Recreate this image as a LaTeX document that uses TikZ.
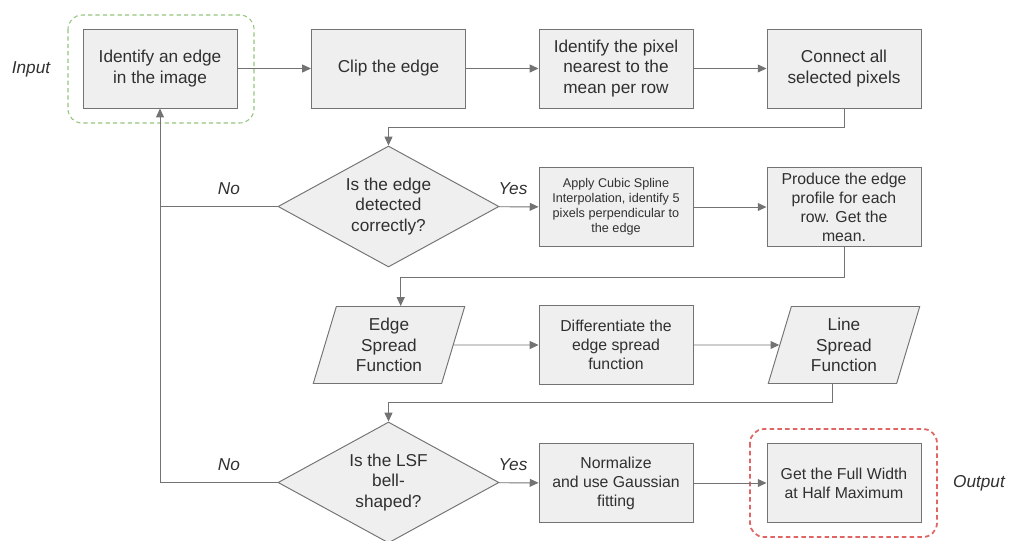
\documentclass[tikz,border=0pt]{standalone}
\usepackage{fontspec}
\setmainfont{Liberation Sans}
\usetikzlibrary{arrows.meta,shapes.geometric}
\definecolor{fcfill}{RGB}{239,239,239}
\definecolor{fcline}{RGB}{115,115,115}
\definecolor{fctext}{RGB}{48,48,48}
\definecolor{fcgreen}{RGB}{147,196,125}
\definecolor{fcred}{RGB}{224,102,102}

\begin{document}
\begin{tikzpicture}[x=0.02cm,y=-0.02cm,text=fctext,
    bigfont/.style={font=\fontsize{9.8}{11.6}\selectfont},
    midfont/.style={font=\fontsize{9}{10.8}\selectfont},
    procbox/.style={draw=fcline,fill=fcfill,line width=0.55pt,minimum width=3.08cm,
      minimum height=1.58cm,align=center,inner sep=2pt},
    iobox/.style={trapezium,trapezium left angle=75,trapezium right angle=105,
      trapezium stretches=true,draw=fcline,fill=fcfill,line width=0.55pt,
      minimum width=3.04cm,minimum height=1.54cm,align=center,inner sep=1pt,bigfont},
    decbox/.style={diamond,aspect=1.83,draw=fcline,fill=fcfill,line width=0.55pt,
      minimum width=4.42cm,minimum height=2.42cm,align=center,inner sep=0pt,bigfont},
    link/.style={draw=fcline,line width=0.55pt},
    flow/.style={link,-{Triangle[length=5pt,width=4.5pt]}},
    lbl/.style={font=\fontsize{9.8}{11.6}\selectfont\itshape}]
  \useasboundingbox (0,0) rectangle (1009,541);
  \draw[fcgreen,line width=0.6pt,dash pattern=on 2.4pt off 1.8pt,rounded corners=8pt]
    (68,15) rectangle (254,123);
  \draw[fcred,line width=1pt,dash pattern=on 2.6pt off 1.8pt,rounded corners=8pt]
    (750,429) rectangle (937,537);
  \node[procbox,bigfont] (ident) at (160,68.5) {Identify an edge\\in the image};
  \node[procbox,bigfont] (clip) at (388.5,68.5) {Clip the edge};
  \node[procbox,bigfont] (near) at (616,68.5) {Identify the pixel\\nearest to the\\mean per row};
  \node[procbox,bigfont] (conn) at (844,68.5) {Connect all\\selected pixels};
  \node[decbox] (chk1) at (388.5,206.5) {Is the edge\\detected\\correctly?};
  \node[procbox,font=\fontsize{7.2}{8.5}\selectfont] (spline) at (616,207)
    {Apply Cubic Spline\\Interpolation, identify 5\\pixels perpendicular to\\the edge};
  \node[procbox,midfont] (prof) at (844,207) {Produce the edge\\profile for each\\row. Get the\\mean.};
  \node[iobox] (esf) at (389,345) {Edge\\Spread\\Function};
  \node[procbox,midfont] (diff) at (616,345) {Differentiate the\\edge spread\\function};
  \node[iobox] (lsf) at (844,345) {Line\\Spread\\Function};
  \node[decbox] (chk2) at (388.5,482.5) {Is the LSF\\bell-\\shaped?};
  \node[procbox,midfont] (norm) at (616,483) {Normalize\\and use Gaussian\\fitting};
  \node[procbox,midfont] (fwhm) at (844,483) {Get the Full Width\\at Half Maximum};
  \node[lbl] (inlbl) at (31,69) {Input};
  \node[lbl] (outlbl) at (979,483) {Output};
  \node[lbl] (no1) at (229,189) {No};
  \node[lbl] (yes1) at (513,189) {Yes};
  \node[lbl] (no2) at (229,465) {No};
  \node[lbl] (yes2) at (513,465) {Yes};
  \draw[flow] (ident) -- (clip);
  \draw[flow] (clip) -- (near);
  \draw[flow] (near) -- (conn);
  \draw[flow] (conn.south) -- ++(0,19) -| (chk1.north);
  \draw[flow] (chk1) -- (spline);
  \draw[flow] (spline) -- (prof);
  \draw[flow] (prof.south) -- ++(0,31) -| (esf.top side);
  \draw[flow] (esf) -- (diff);
  \draw[flow] (diff) -- (lsf);
  \draw[flow] (lsf.bottom side) -- ++(0,19) -| (chk2.north);
  \draw[flow] (chk2) -- (norm);
  \draw[flow] (norm) -- (fwhm);
  \draw[flow] (chk2.west) -| (ident.south);
  \draw[link] (chk1.west) -- (chk1.west -| ident.south);
\end{tikzpicture}
\end{document}
